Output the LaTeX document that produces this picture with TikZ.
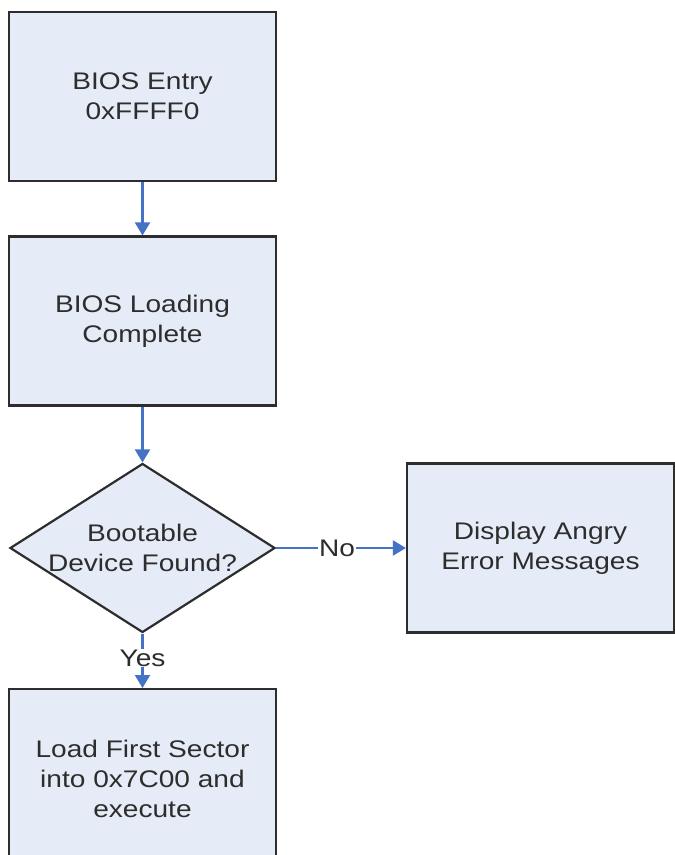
\documentclass[tikz,border=0pt]{standalone}
\usepackage{fontspec}
\setmainfont{Liberation Sans}[FakeStretch=1.17]
\usetikzlibrary{shapes.geometric,arrows.meta}
\definecolor{boxfill}{RGB}{230,236,247}
\definecolor{boxline}{RGB}{45,45,45}
\definecolor{txt}{RGB}{45,45,45}
\definecolor{arrowblue}{RGB}{68,114,196}
\tikzset{
  stepbox/.style={draw=boxline, fill=boxfill, line width=2.2pt, minimum width=267pt, minimum height=169pt, inner sep=0pt, align=center, text=txt, font=\fontsize{24}{30}\selectfont},
  decision/.style={diamond, draw=boxline, fill=boxfill, line width=2.2pt, minimum width=265pt, minimum height=169pt, aspect=1.57, inner sep=0pt, align=center, text=txt, font=\fontsize{24}{30}\selectfont},
  flow/.style={draw=arrowblue, line width=2.2pt, -{Triangle[length=13pt,width=15pt]}},
  lbl/.style={fill=white, inner sep=1pt, text=txt, font=\fontsize{24}{30}\selectfont}
}
\begin{document}
\begin{tikzpicture}[x=1pt,y=-1pt]
\useasboundingbox (0,0) rectangle (675,855);
\clip (0,0) rectangle (675,855);
\fill[white] (0,0) rectangle (675,855);
\node[stepbox] (entry) at (142.5,96.5) {BIOS Entry\\0xFFFF0};
\node[stepbox] (load) at (142.5,321) {BIOS Loading\\Complete};
\node[decision] (boot) at (142.5,548) {Bootable\\Device Found?};
\node[stepbox] (err) at (540.5,548) {Display Angry\\Error Messages};
\node[stepbox, minimum height=180pt, anchor=north] (exec) at (142.5,688) {Load First Sector\\into 0x7C00 and\\execute};
\draw[flow] (entry.south) -- (load.north);
\draw[flow] (load.south) -- (boot.north);
\draw[flow] (boot.east) -- node[lbl, pos=0.47] (no) {No} (err.west);
\draw[flow] (boot.south) -- node[lbl, pos=0.45] (yes) {Yes} (exec.north);
\end{tikzpicture}
\end{document}
